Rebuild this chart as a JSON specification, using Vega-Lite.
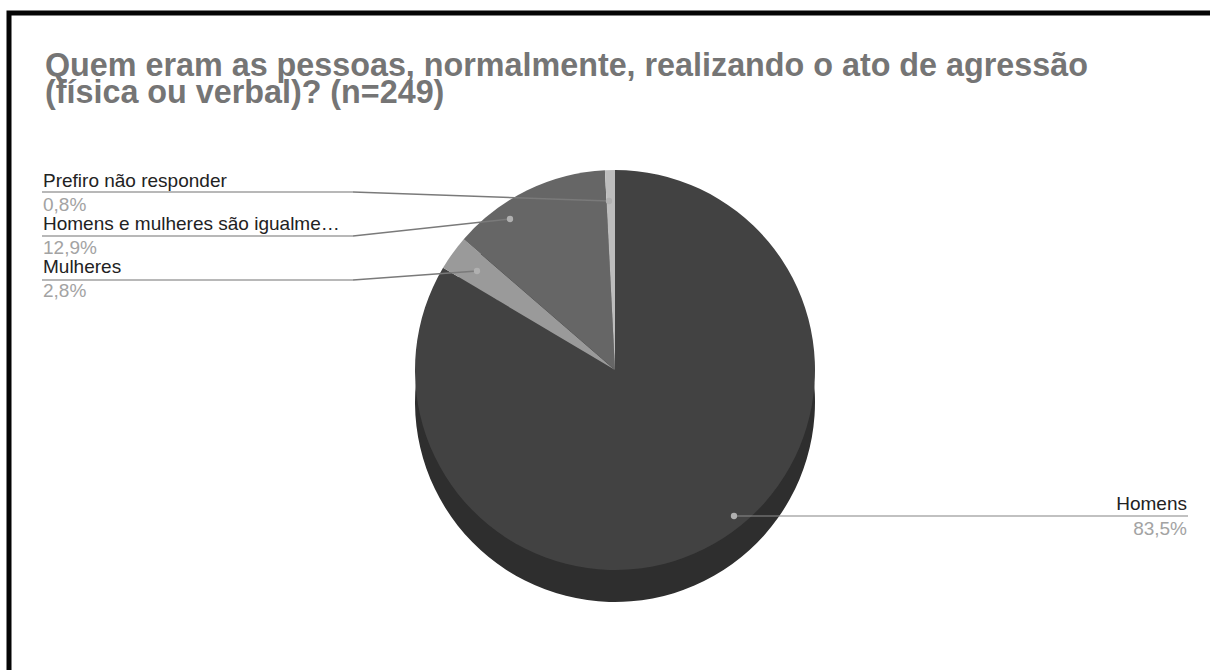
{
  "$schema": "https://vega.github.io/schema/vega-lite/v6.json",
  "autosize": "none",
  "width": 1300,
  "height": 714,
  "padding": {"left": 9, "top": 13, "right": -99, "bottom": -57},
  "background": "#ffffff",
  "title": {
    "text": ["Quem eram as pessoas, normalmente, realizando o ato de agressão", "(física ou verbal)? (n=249)"],
    "anchor": "start",
    "baseline": "top",
    "offset": -40,
    "dx": 36,
    "dy": 56,
    "font": "Liberation Sans",
    "fontSize": 32.3,
    "fontWeight": "bold",
    "color": "#757575",
    "lineHeight": 26.5
  },
  "config": {
    "view": {"stroke": "#050505", "strokeWidth": 5},
    "locale": {"number": {"decimal": ",", "thousands": ".", "grouping": [3], "currency": ["R$", ""]}},
    "text": {"font": "Liberation Sans"}
  },
  "data": {
    "values": [
      {"category": "Homens", "n": 208, "pct": 0.835},
      {"category": "Mulheres", "n": 7, "pct": 0.028},
      {"category": "Homens e mulheres são igualme…", "n": 32, "pct": 0.129},
      {"category": "Prefiro não responder", "n": 2, "pct": 0.008}
    ]
  },
  "transform": [{"window": [{"op": "row_number", "as": "idx"}]}],
  "resolve": {"scale": {"x": "independent", "y": "independent"}},
  "layer": [
    {
      "mark": {"type": "arc", "outerRadius": 200, "xOffset": -44, "yOffset": 32, "color": "#2e2e2e"},
      "encoding": {
        "theta": {"field": "n", "type": "quantitative", "stack": true},
        "order": {"field": "idx", "type": "quantitative", "sort": "ascending"}
      }
    },
    {
      "mark": {"type": "arc", "outerRadius": 200, "xOffset": -44},
      "encoding": {
        "theta": {"field": "n", "type": "quantitative", "stack": true},
        "order": {"field": "idx", "type": "quantitative", "sort": "ascending"},
        "color": {
          "field": "category",
          "type": "nominal",
          "scale": {
            "domain": ["Homens", "Mulheres", "Homens e mulheres são igualme…", "Prefiro não responder"],
            "range": ["#424242", "#9a9a9a", "#666666", "#bdbdbd"]
          },
          "legend": null
        }
      }
    },
    {
      "transform": [{"filter": "datum.category !== 'Homens'"}],
      "mark": {"type": "tick", "orient": "horizontal", "size": 311, "thickness": 1.5, "color": "#777777"},
      "encoding": {
        "x": {"field": "category", "type": "nominal", "axis": null,
              "scale": {"type": "point", "domain": ["Prefiro não responder", "Homens e mulheres são igualme…", "Mulheres"], "range": [188.5, 188.5], "padding": 0}},
        "y": {"field": "category", "type": "nominal", "axis": null,
              "scale": {"type": "point", "domain": ["Prefiro não responder", "Homens e mulheres são igualme…", "Mulheres"], "range": [179, 267], "padding": 0}}
      }
    },
    {
      "transform": [{"filter": "datum.category === 'Homens'"}],
      "mark": {"type": "tick", "orient": "horizontal", "size": 454, "thickness": 1.5, "color": "#8a8a8a"},
      "encoding": {
        "x": {"field": "category", "type": "nominal", "axis": null,
              "scale": {"type": "point", "domain": ["Homens"], "range": [952, 952], "padding": 0}},
        "y": {"field": "category", "type": "nominal", "axis": null,
              "scale": {"type": "point", "domain": ["Homens"], "range": [503, 503], "padding": 0}}
      }
    },
    {
      "transform": [
        {"filter": "datum.category === 'Prefiro não responder'"},
        {"fold": ["pct", "n"]}
      ],
      "layer": [
        {
          "mark": {"type": "line", "color": "#7a7a7a", "strokeWidth": 1.5},
          "encoding": {
            "x": {"field": "key", "type": "nominal", "axis": null,
                  "scale": {"type": "point", "domain": ["pct", "n"], "range": [344, 600], "padding": 0}},
            "y": {"field": "key", "type": "nominal", "axis": null,
                  "scale": {"type": "point", "domain": ["pct", "n"], "range": [179, 188], "padding": 0}}
          }
        },
        {
          "transform": [{"filter": "datum.key === 'n'"}],
          "mark": {"type": "point", "filled": true, "size": 40, "color": "#b0b0b0", "opacity": 1},
          "encoding": {
            "x": {"field": "key", "type": "nominal", "axis": null,
                  "scale": {"type": "point", "domain": ["pct", "n"], "range": [344, 600], "padding": 0}},
            "y": {"field": "key", "type": "nominal", "axis": null,
                  "scale": {"type": "point", "domain": ["pct", "n"], "range": [179, 188], "padding": 0}}
          }
        }
      ]
    },
    {
      "transform": [
        {"filter": "datum.category === 'Homens e mulheres são igualme…'"},
        {"fold": ["pct", "n"]}
      ],
      "layer": [
        {
          "mark": {"type": "line", "color": "#7a7a7a", "strokeWidth": 1.5},
          "encoding": {
            "x": {"field": "key", "type": "nominal", "axis": null,
                  "scale": {"type": "point", "domain": ["pct", "n"], "range": [344, 501], "padding": 0}},
            "y": {"field": "key", "type": "nominal", "axis": null,
                  "scale": {"type": "point", "domain": ["pct", "n"], "range": [223, 206], "padding": 0}}
          }
        },
        {
          "transform": [{"filter": "datum.key === 'n'"}],
          "mark": {"type": "point", "filled": true, "size": 40, "color": "#b0b0b0", "opacity": 1},
          "encoding": {
            "x": {"field": "key", "type": "nominal", "axis": null,
                  "scale": {"type": "point", "domain": ["pct", "n"], "range": [344, 501], "padding": 0}},
            "y": {"field": "key", "type": "nominal", "axis": null,
                  "scale": {"type": "point", "domain": ["pct", "n"], "range": [223, 206], "padding": 0}}
          }
        }
      ]
    },
    {
      "transform": [
        {"filter": "datum.category === 'Mulheres'"},
        {"fold": ["pct", "n"]}
      ],
      "layer": [
        {
          "mark": {"type": "line", "color": "#7a7a7a", "strokeWidth": 1.5},
          "encoding": {
            "x": {"field": "key", "type": "nominal", "axis": null,
                  "scale": {"type": "point", "domain": ["pct", "n"], "range": [344, 468], "padding": 0}},
            "y": {"field": "key", "type": "nominal", "axis": null,
                  "scale": {"type": "point", "domain": ["pct", "n"], "range": [267, 258], "padding": 0}}
          }
        },
        {
          "transform": [{"filter": "datum.key === 'n'"}],
          "mark": {"type": "point", "filled": true, "size": 40, "color": "#b0b0b0", "opacity": 1},
          "encoding": {
            "x": {"field": "key", "type": "nominal", "axis": null,
                  "scale": {"type": "point", "domain": ["pct", "n"], "range": [344, 468], "padding": 0}},
            "y": {"field": "key", "type": "nominal", "axis": null,
                  "scale": {"type": "point", "domain": ["pct", "n"], "range": [267, 258], "padding": 0}}
          }
        }
      ]
    },
    {
      "transform": [{"filter": "datum.category === 'Homens'"}],
      "mark": {"type": "point", "filled": true, "size": 40, "color": "#b0b0b0", "opacity": 1},
      "encoding": {
        "x": {"field": "category", "type": "nominal", "axis": null,
              "scale": {"type": "point", "domain": ["Homens"], "range": [725, 725], "padding": 0}},
        "y": {"field": "category", "type": "nominal", "axis": null,
              "scale": {"type": "point", "domain": ["Homens"], "range": [503, 503], "padding": 0}}
      }
    },
    {
      "transform": [{"filter": "datum.category !== 'Homens'"}],
      "mark": {"type": "text", "align": "left", "baseline": "alphabetic", "fontSize": 19, "color": "#222222"},
      "encoding": {
        "text": {"field": "category"},
        "x": {"field": "category", "type": "nominal", "axis": null,
              "scale": {"type": "point", "domain": ["Prefiro não responder", "Homens e mulheres são igualme…", "Mulheres"], "range": [34, 34], "padding": 0}},
        "y": {"field": "category", "type": "nominal", "axis": null,
              "scale": {"type": "point", "domain": ["Prefiro não responder", "Homens e mulheres são igualme…", "Mulheres"], "range": [174, 260], "padding": 0}}
      }
    },
    {
      "transform": [{"filter": "datum.category !== 'Homens'"}],
      "mark": {"type": "text", "align": "left", "baseline": "alphabetic", "fontSize": 19, "color": "#a3a3a3", "dy": 24},
      "encoding": {
        "text": {"field": "pct", "type": "quantitative", "format": ".1%"},
        "x": {"field": "category", "type": "nominal", "axis": null,
              "scale": {"type": "point", "domain": ["Prefiro não responder", "Homens e mulheres são igualme…", "Mulheres"], "range": [34, 34], "padding": 0}},
        "y": {"field": "category", "type": "nominal", "axis": null,
              "scale": {"type": "point", "domain": ["Prefiro não responder", "Homens e mulheres são igualme…", "Mulheres"], "range": [174, 260], "padding": 0}}
      }
    },
    {
      "transform": [{"filter": "datum.category === 'Homens'"}],
      "mark": {"type": "text", "align": "right", "baseline": "alphabetic", "fontSize": 19, "color": "#222222"},
      "encoding": {
        "text": {"field": "category"},
        "x": {"field": "category", "type": "nominal", "axis": null,
              "scale": {"type": "point", "domain": ["Homens"], "range": [1178, 1178], "padding": 0}},
        "y": {"field": "category", "type": "nominal", "axis": null,
              "scale": {"type": "point", "domain": ["Homens"], "range": [497, 497], "padding": 0}}
      }
    },
    {
      "transform": [{"filter": "datum.category === 'Homens'"}],
      "mark": {"type": "text", "align": "right", "baseline": "alphabetic", "fontSize": 19, "color": "#a3a3a3", "dy": 25},
      "encoding": {
        "text": {"field": "pct", "type": "quantitative", "format": ".1%"},
        "x": {"field": "category", "type": "nominal", "axis": null,
              "scale": {"type": "point", "domain": ["Homens"], "range": [1178, 1178], "padding": 0}},
        "y": {"field": "category", "type": "nominal", "axis": null,
              "scale": {"type": "point", "domain": ["Homens"], "range": [497, 497], "padding": 0}}
      }
    }
  ]
}
